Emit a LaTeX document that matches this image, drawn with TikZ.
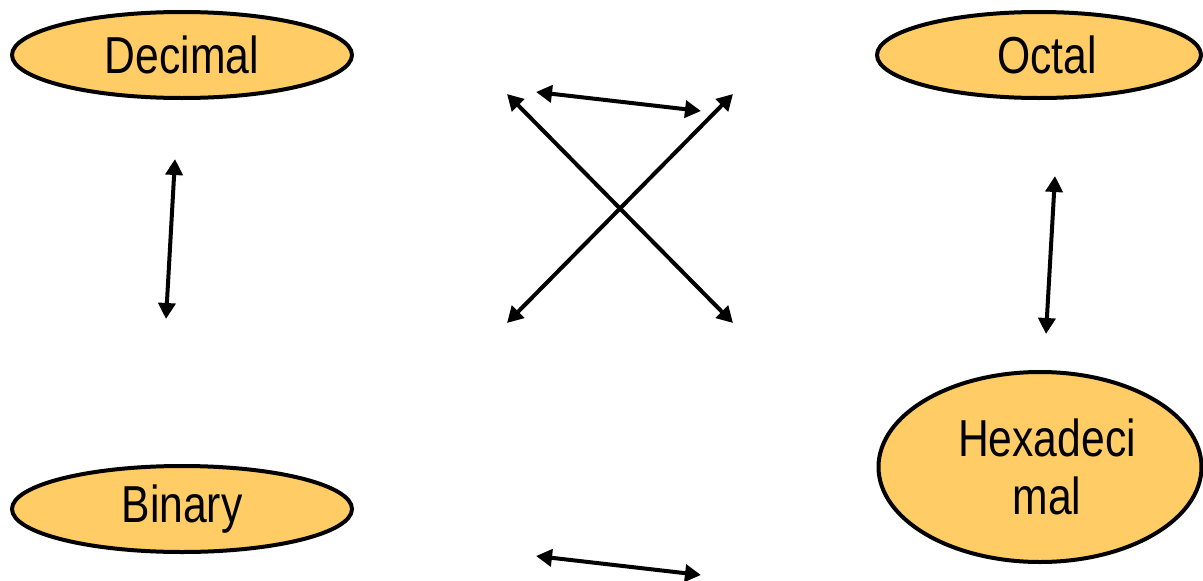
\documentclass[tikz,border=0pt]{standalone}
\usepackage{fontspec}
\newfontfamily\narrowfont{Liberation Sans}[FakeStretch=0.82]
\usetikzlibrary{shapes.geometric,arrows.meta}
\definecolor{nodefill}{RGB}{255,204,102}
\begin{document}
\begin{tikzpicture}[x=1pt,y=-1pt,
  numbox/.style={ellipse,draw=black,line width=4pt,fill=nodefill,inner sep=0pt},
  numtext/.style={font=\narrowfont\fontsize{52}{58}\selectfont,align=center,inner sep=0pt},
  dblarrow/.style={line width=4pt,{Triangle[length=16pt,width=17pt]}-{Triangle[length=16pt,width=17pt]}}]
\useasboundingbox (0,0) rectangle (1203,581);
\node[numbox,minimum width=340pt,minimum height=86pt] (dec) at (182,55) {};
\node[numtext] (dect) at (dec.center) {Decimal};
\node[numbox,minimum width=324pt,minimum height=86pt] (oct) at (1039,55) {};
\node[numtext] (octt) at ([xshift=8pt]oct.center) {Octal};
\node[numbox,minimum width=340pt,minimum height=86pt] (bin) at (182,509) {};
\node[numtext] (bint) at (bin.center) {Binary};
\node[numbox,minimum width=323pt,minimum height=190pt] (hex) at (1040,467) {};
\node[numtext] (hext) at ([xshift=7pt]hex.center) {Hexadeci\\mal};
\coordinate (db1) at (175,159);
\coordinate (db2) at (166,319);
\coordinate (oh1) at (1055,176);
\coordinate (oh2) at (1046,334);
\coordinate (t1) at (536,92);
\coordinate (t2) at (701,111);
\coordinate (b1) at (536,556);
\coordinate (b2) at (701,575);
\coordinate (x1) at (507,94);
\coordinate (x2) at (733,323);
\coordinate (x3) at (733,94);
\coordinate (x4) at (507,323);
\draw[dblarrow] (db1) -- (db2);
\draw[dblarrow] (oh1) -- (oh2);
\draw[dblarrow] (t1) -- (t2);
\draw[dblarrow] (b1) -- (b2);
\draw[dblarrow] (x1) -- (x2);
\draw[dblarrow] (x3) -- (x4);
\end{tikzpicture}
\end{document}
